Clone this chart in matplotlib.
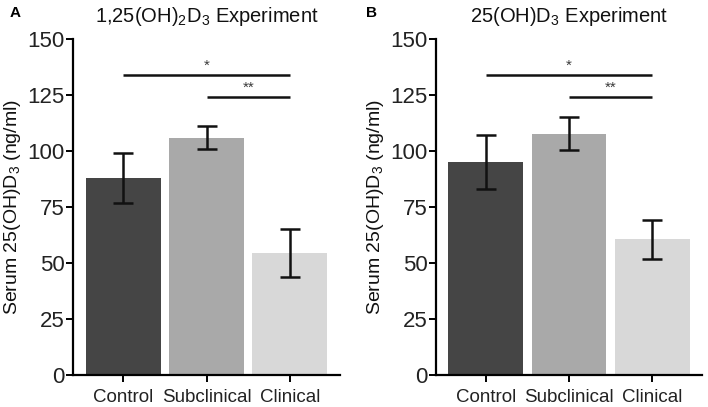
import numpy as np
import matplotlib
matplotlib.use('Agg')
from matplotlib import pyplot as plt

plt.rcParams['font.family'] = ['Liberation Sans', 'DejaVu Sans']
plt.rcParams['mathtext.fontset'] = 'custom'
plt.rcParams['mathtext.rm'] = 'Liberation Sans'
plt.rcParams['mathtext.it'] = 'Liberation Sans:italic'

groups = ['Control', 'Subclinical', 'Clinical']
bar_colors = ['#454545', '#a9a9a9', '#d8d8d8']

# panel A: 1,25(OH)2D3 experiment
means_a = [88, 106, 54.6]
errs_a = [11.2, 5.0, 10.7]
# panel B: 25(OH)D3 experiment
means_b = [95, 107.7, 60.5]
errs_b = [12.0, 7.3, 8.5]

# significance brackets: (start group, end group, y, label)
sig = [(0, 2, 134, '*'), (1, 2, 124, '**')]

panels = [
    ('A', '1,25(OH)$\\mathregular{_2}$D$\\mathregular{_3}$ Experiment', means_a, errs_a,
     [73 / 708, 1 - 375 / 407, 267 / 708, 336 / 407], (10 / 708, 1 - 13 / 407)),
    ('B', '25(OH)D$\\mathregular{_3}$ Experiment', means_b, errs_b,
     [436 / 708, 1 - 375 / 407, 266 / 708, 336 / 407], (366 / 708, 1 - 13 / 407)),
]

fig = plt.figure(figsize=(7.08, 4.07), dpi=100)

for letter, title, means, errs, rect, lpos in panels:
    ax = fig.add_axes(rect)
    x = np.arange(len(groups))
    ax.bar(x, means, width=0.9, color=bar_colors, zorder=1)
    ax.errorbar(x, means, yerr=errs, fmt='none', ecolor='#111111',
                elinewidth=1.8, capsize=7, capthick=1.8, zorder=2)
    for i0, i1, yy, lab in sig:
        ax.plot([i0, i1], [yy, yy], color='#111111', lw=1.8, solid_capstyle='butt')
        ax.text((i0 + i1) / 2, yy + 1.0, lab, ha='center', va='bottom',
                fontsize=11, color='#3a3a3a')
    ax.set_xlim(-0.6, 2.6)
    ax.set_ylim(0, 150)
    ax.set_yticks([0, 25, 50, 75, 100, 125, 150])
    ax.set_xticks(x)
    ax.set_xticklabels(groups, fontsize=13.5, color='#222222')
    for t in ax.get_yticklabels():
        t.set_fontsize(16)
        t.set_color('#222222')
    ax.spines['top'].set_visible(False)
    ax.spines['right'].set_visible(False)
    ax.spines['left'].set_linewidth(1.6)
    ax.spines['bottom'].set_linewidth(1.6)
    ax.tick_params(axis='y', length=5, width=1.4, direction='out', pad=1)
    ax.tick_params(axis='x', length=5, width=1.4, direction='out', pad=5)
    ax.set_ylabel('Serum 25(OH)D$\\mathregular{_3}$ (ng/ml)', fontsize=14,
                  color='#111111', labelpad=3)
    ax.set_title(title, fontsize=14.5, color='#111111', pad=12)
    fig.text(lpos[0], lpos[1], letter, fontsize=11, fontweight='bold',
             ha='left', va='center')

fig.savefig('out.png', dpi=100)
